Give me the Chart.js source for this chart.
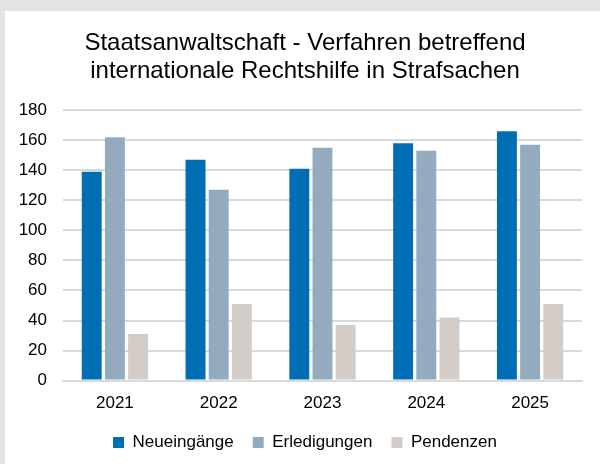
<!DOCTYPE html>
<html>
<head>
<meta charset="utf-8">
<script src="https://cdn.jsdelivr.net/npm/chart.js@4"></script>
<style>
  html, body { margin: 0; padding: 0; background: #e3e3e3; overflow: hidden; }
  #panel { position: absolute; left: 5px; top: 11px; width: 595px; height: 453px; background: #fff; }
  #chart { display: block; }
</style>
</head>
<body>
<div id="panel"><canvas id="chart" width="595" height="456"></canvas></div>
<script>
const years = ['2021', '2022', '2023', '2024', '2025'];
const neueingaenge = [139, 147, 141, 158, 166];
const erledigungen = [162, 127, 155, 153, 157];
const pendenzen = [31, 51, 37, 42, 51];
const yTicks = [0, 20, 40, 60, 80, 100, 120, 140, 160, 180];

const fontFamily = '"Liberation Sans", Arial, sans-serif';

new Chart(document.getElementById('chart'), {
  type: 'bar',
  data: {
    labels: years,
    datasets: [
      { label: 'Neueingänge', data: neueingaenge, backgroundColor: '#006eb4' },
      { label: 'Erledigungen', data: erledigungen, backgroundColor: '#94abbf' },
      { label: 'Pendenzen', data: pendenzen, backgroundColor: '#d4ccc6' }
    ]
  },
  options: {
    responsive: false,
    animation: false,
    layout: { padding: { left: 10, right: 5, top: 0, bottom: 6 } },
    datasets: {
      bar: { categoryPercentage: 0.67, barPercentage: 0.86 }
    },
    plugins: {
      title: {
        display: true,
        text: ['Staatsanwaltschaft - Verfahren betreffend', 'internationale Rechtshilfe in Strafsachen'],
        color: '#000',
        font: { family: fontFamily, size: 24, weight: 'normal', lineHeight: 1.17 },
        padding: { top: 18, bottom: 25 }
      },
      legend: {
        position: 'bottom',
        labels: {
          color: '#000',
          font: { family: fontFamily, size: 17 },
          boxWidth: 11,
          boxHeight: 11,
          padding: 19
        }
      },
      tooltip: { enabled: false }
    },
    scales: {
      x: {
        grid: { display: false },
        border: { display: true, color: '#d9d9d9', width: 2 },
        ticks: { color: '#000', font: { family: fontFamily, size: 17 }, padding: 5 },
        afterFit: (scale) => { scale.height -= 4; }
      },
      y: {
        min: 0,
        max: 180,
        afterBuildTicks: (axis) => { axis.ticks = yTicks.map(v => ({ value: v })); },
        afterFit: (scale) => { scale.width = 48; },
        grid: { color: '#d9d9d9', lineWidth: 2, drawTicks: false },
        border: { display: false },
        ticks: { color: '#000', font: { family: fontFamily, size: 17 }, padding: 16 }
      },
      // leeres rechtes Band, damit der Plot wie im Original bei x=582 endet
      yRight: {
        position: 'right',
        grid: { display: false },
        border: { display: false },
        ticks: { display: false },
        afterFit: (scale) => { scale.width = 13; }
      }
    }
  }
});
</script>
</body>
</html>
